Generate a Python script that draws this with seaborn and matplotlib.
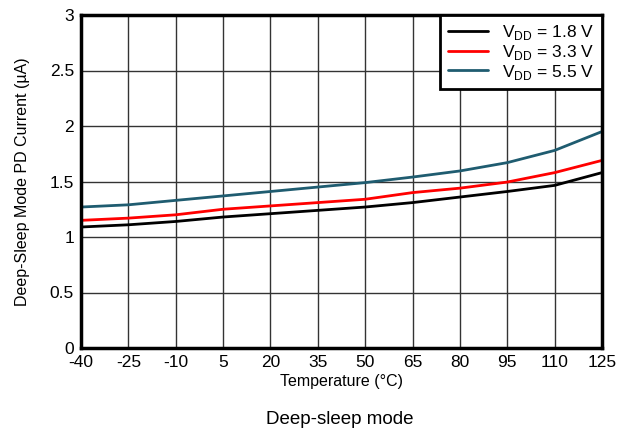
import numpy as np
import pandas as pd
import matplotlib
matplotlib.use("Agg")
import matplotlib.pyplot as plt
import seaborn as sns

temps = [-40, -25, -10, 5, 20, 35, 50, 65, 80, 95, 110, 125]
i_18 = [1.09, 1.11, 1.14, 1.18, 1.21, 1.24, 1.27, 1.31, 1.36, 1.41, 1.465, 1.58]
i_33 = [1.15, 1.17, 1.20, 1.25, 1.28, 1.31, 1.34, 1.40, 1.44, 1.495, 1.58, 1.69]
i_55 = [1.27, 1.29, 1.33, 1.37, 1.41, 1.45, 1.49, 1.54, 1.595, 1.67, 1.78, 1.95]
labels = [r"V$_{\mathrm{DD}}$ = 1.8 V", r"V$_{\mathrm{DD}}$ = 3.3 V", r"V$_{\mathrm{DD}}$ = 5.5 V"]
colors = ["#000000", "#ff0000", "#1f5c70"]

df = pd.DataFrame({
    "temp": temps * 3,
    "current": i_18 + i_33 + i_55,
    "series": [labels[0]] * 12 + [labels[1]] * 12 + [labels[2]] * 12,
})

sns.set_style("white")
plt.rcParams["font.family"] = ["Liberation Sans", "DejaVu Sans"]
plt.rcParams["mathtext.fontset"] = "custom"
plt.rcParams["mathtext.rm"] = "Liberation Sans"
plt.rcParams["axes.unicode_minus"] = False
plt.rcParams["text.color"] = "black"
plt.rcParams["axes.labelcolor"] = "black"
plt.rcParams["xtick.color"] = "black"
plt.rcParams["ytick.color"] = "black"

fig = plt.figure(figsize=(6.31, 4.33), dpi=100)
ax = fig.add_axes([81 / 631, 1 - 348 / 433, (602 - 81) / 631, (348 - 15) / 433])
sns.lineplot(data=df, x="temp", y="current", hue="series", palette=colors,
             linewidth=2, ax=ax)

ax.set_xlim(-40, 125)
ax.set_ylim(0, 3)
ax.set_xticks(temps)
ax.set_yticks(np.arange(0, 3.01, 0.5))
ax.set_yticklabels(["0", "0.5", "1", "1.5", "2", "2.5", "3"])
ax.grid(True, color="#333333", linewidth=1)
ax.tick_params(labelsize=12.5, length=0, pad=5)
for s in ax.spines.values():
    s.set_linewidth(2.5)
    s.set_color("black")
ax.set_xlabel("Temperature (°C)", fontsize=11.5, labelpad=3)
ax.set_ylabel("Deep-Sleep Mode PD Current (µA)", fontsize=11.5, labelpad=14)

leg = ax.legend(loc="upper right", fontsize=12.5, frameon=True, fancybox=False,
                borderaxespad=0, handlelength=2.3, handletextpad=0.8,
                labelspacing=0.05, borderpad=0.45, framealpha=1)
leg.get_frame().set_edgecolor("black")
leg.get_frame().set_linewidth(2)

fig.text(340 / 631, 1 - 420 / 433, "Deep-sleep mode", fontsize=13.5, ha="center", va="center")

fig.savefig("out.png", dpi=100)
